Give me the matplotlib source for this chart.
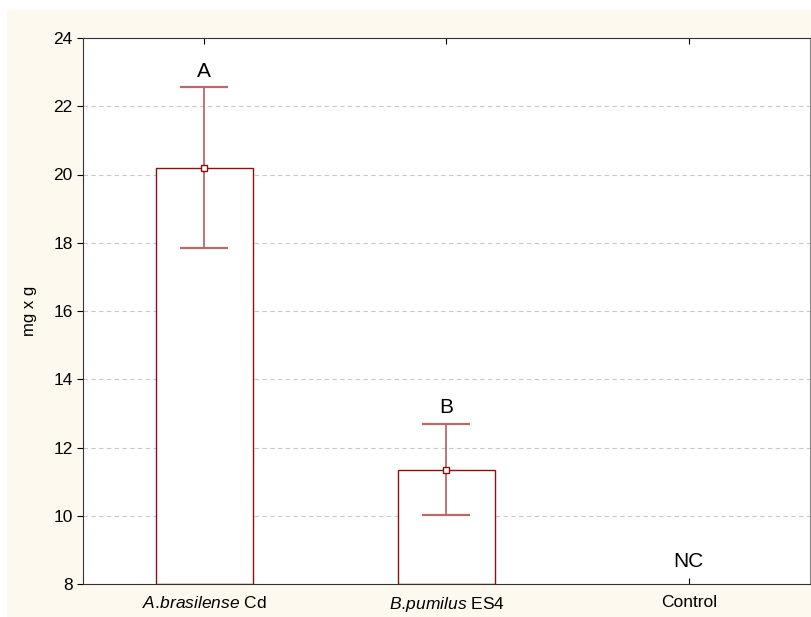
import matplotlib.pyplot as plt
from matplotlib.patches import Rectangle

# data
categories = [r"$\mathit{A.\!brasilense}$ Cd", r"$\mathit{B.\!pumilus}$ ES4", "Control"]
means = [20.2, 11.35]
errors = [2.35, 1.33]
letters = ["A", "B", "NC"]
yticks = [8, 10, 12, 14, 16, 18, 20, 22, 24]

plt.rcParams['font.family'] = ['Liberation Sans', 'DejaVu Sans']
plt.rcParams['mathtext.fontset'] = 'custom'
plt.rcParams['mathtext.rm'] = 'Liberation Sans'
plt.rcParams['mathtext.it'] = 'Liberation Sans:italic'

fig = plt.figure(figsize=(8.11, 6.17), dpi=100, facecolor='white')
fig.patches.append(Rectangle((7/811, 0), 1, 1 - 10/617, transform=fig.transFigure,
                             facecolor='#fef9ee', edgecolor='none', zorder=-5))
ax = fig.add_axes([83/811, 33/617, 727/811, 546/617])
ax.set_facecolor('white')

red = '#8b1010'
whisk = '#b86a6a'
x = list(range(len(means)))
ax.bar(x, [m - 8 for m in means], bottom=8, width=0.4, facecolor='white',
       edgecolor=red, linewidth=1.0, zorder=2)
ax.errorbar(x, means, yerr=errors, fmt='none', ecolor=whisk, elinewidth=1.3,
            capsize=17, capthick=1.6, zorder=3)
ax.plot(x, means, ls='none', marker='s', ms=5, mfc='white', mec=red, mew=1.0, zorder=4)

# letters above bars
for i, m in enumerate(means):
    ax.text(i, m + errors[i] + 0.2, letters[i], ha='center', va='bottom', fontsize=15)
ax.text(2, 8.65, letters[2], ha='center', va='center', fontsize=15)

ax.set_xlim(-0.5, 2.5)
ax.set_ylim(8, 24)
ax.set_yticks(yticks)
ax.tick_params(axis='y', labelsize=12.5, direction='out', length=4, width=0.8)
ax.set_xticks([0, 1, 2])
ax.set_xticklabels(categories)
ax.tick_params(axis='x', labelsize=12.5, direction='in', length=4, width=0.8,
               top=True, pad=8)
ax.set_ylabel("mg x g", fontsize=12, labelpad=12)

for yt in yticks[1:-1]:
    ax.axhline(yt, color='#c8c8c8', ls=(0, (4, 3)), lw=0.8, zorder=1)

for s in ['left', 'bottom', 'top']:
    ax.spines[s].set_color('#333333')
ax.spines['right'].set_color('#888888')

fig.savefig("out.png", dpi=100, facecolor=fig.get_facecolor())
